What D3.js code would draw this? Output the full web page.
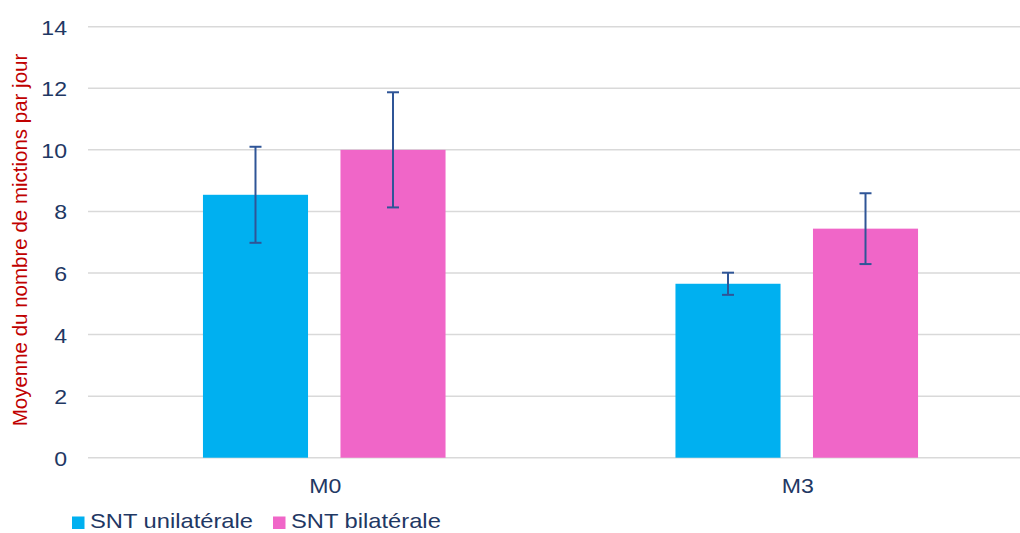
<!DOCTYPE html>
<html>
<head>
<meta charset="utf-8">
<script src="https://cdn.jsdelivr.net/npm/d3@7"></script>
<style>
  html, body { margin: 0; padding: 0; background: #fff; }
  svg { display: block; font-family: "Liberation Sans", Arial, sans-serif; }
</style>
</head>
<body>
<svg id="chart" width="1020" height="533"></svg>
<script>
const categories = ["M0", "M3"];
const seriesNames = ["SNT unilatérale", "SNT bilatérale"];
const unilateral = [8.54, 5.65];
const unilateralErr = [1.56, 0.36];
const bilateral = [10.0, 7.44];
const bilateralErr = [1.87, 1.15];
const yTicks = [0, 2, 4, 6, 8, 10, 12, 14];
const yTitle = "Moyenne du nombre de mictions par jour";

const colors = ["#00B0F0", "#F066C8"];
const values = [unilateral, bilateral];
const errs = [unilateralErr, bilateralErr];

const svg = d3.select("#chart");
const textColor = "#1F3864";
const sx = 1.1;

const y = d3.scaleLinear().domain([0, 14]).range([457.7, 26.7]);
const x0 = d3.scaleBand().domain(categories).range([88, 1033]).paddingInner(0).paddingOuter(0);
const x1 = d3.scaleBand().domain(seriesNames).range([0, x0.bandwidth()])
  .paddingInner(0.236).paddingOuter(0.836);

// gridlines
svg.append("g").selectAll("line").data(yTicks).join("line")
  .attr("x1", 88).attr("x2", 1020)
  .attr("y1", d => y(d)).attr("y2", d => y(d))
  .attr("stroke", "#D9D9D9").attr("stroke-width", 1.5);

// y tick labels
svg.append("g").selectAll("text").data(yTicks).join("text")
  .attr("transform", d => `translate(67,${y(d) + 8}) scale(${sx},1)`)
  .attr("text-anchor", "end")
  .attr("font-size", 21).attr("fill", textColor)
  .text(d => d);

// y title
svg.append("text")
  .attr("transform", "translate(27,240) rotate(-90)")
  .attr("text-anchor", "middle")
  .attr("font-size", 20.5).attr("fill", "#C00000")
  .text(yTitle);

// bars
const data = [];
categories.forEach((c, i) => seriesNames.forEach((s, j) => {
  data.push({cat: c, ser: s, v: values[j][i], e: errs[j][i], color: colors[j]});
}));

svg.append("g").selectAll("rect").data(data).join("rect")
  .attr("x", d => x0(d.cat) + x1(d.ser))
  .attr("width", x1.bandwidth())
  .attr("y", d => y(d.v))
  .attr("height", d => y(0) - y(d.v))
  .attr("fill", d => d.color);

// error bars
const eb = svg.append("g").attr("stroke", "#2F5597").attr("stroke-width", 2);
data.forEach(d => {
  const cx = x0(d.cat) + x1(d.ser) + x1.bandwidth() / 2;
  eb.append("line").attr("x1", cx).attr("x2", cx).attr("y1", y(d.v + d.e)).attr("y2", y(d.v - d.e));
  eb.append("line").attr("x1", cx - 6).attr("x2", cx + 6).attr("y1", y(d.v + d.e)).attr("y2", y(d.v + d.e));
  eb.append("line").attr("x1", cx - 6).attr("x2", cx + 6).attr("y1", y(d.v - d.e)).attr("y2", y(d.v - d.e));
});

// category labels
svg.append("g").selectAll("text").data(categories).join("text")
  .attr("transform", d => `translate(${x0(d) + x0.bandwidth() / 2 + 1},493) scale(${sx},1)`)
  .attr("text-anchor", "middle")
  .attr("font-size", 21).attr("fill", textColor)
  .text(d => d);

// legend
const legendX = [72, 273];
const lg = svg.append("g");
seriesNames.forEach((s, i) => {
  lg.append("rect").attr("x", legendX[i]).attr("y", 516.5).attr("width", 12.5).attr("height", 12.5).attr("fill", colors[i]);
  lg.append("text")
    .attr("transform", `translate(${legendX[i] + 18},528) scale(1.13,1)`)
    .attr("font-size", 21).attr("fill", textColor)
    .text(s);
});
</script>
</body>
</html>
